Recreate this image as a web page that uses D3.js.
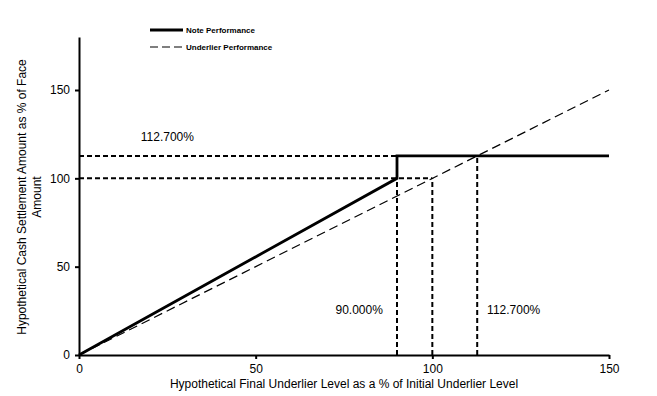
<!DOCTYPE html>
<html>
<head>
<meta charset="utf-8">
<script src="https://cdn.jsdelivr.net/npm/d3@7"></script>
<style>
  html, body { margin: 0; padding: 0; background: #fff; }
  svg { display: block; }
  text { font-family: "Liberation Sans", Arial, sans-serif; fill: #000; }
</style>
</head>
<body>
<svg id="chart" width="657" height="396"></svg>
<script>
// ---- data ----
const seriesNames = ["Note Performance", "Underlier Performance"];
const noteX = [0, 90, 90, 150];
const noteY = [0, 100, 112.7, 112.7];
const underlierX = [0, 150];
const underlierY = [0, 150];
const xTicks = [0, 50, 100, 150];
const yTicks = [0, 50, 100, 150];
const capLevel = 112.7;
const thresholdLevel = 90;
const parLevel = 100;
const xTitle = "Hypothetical Final Underlier Level as a % of Initial Underlier Level";
const yTitleLines = ["Hypothetical Cash Settlement Amount as % of Face", "Amount"];

// ---- layout ----
const svg = d3.select("#chart");
const x = d3.scaleLinear().domain([0, 150]).range([79, 609]);
const y = d3.scaleLinear().domain([0, 180]).range([355, 37]);

// reference dashed lines
const refStyle = g => g.attr("stroke", "#000").attr("stroke-width", 2).attr("stroke-dasharray", "5,3").attr("fill", "none");
const refs = [
  [[0, capLevel], [capLevel, capLevel]],
  [[0, parLevel], [parLevel, parLevel]],
  [[thresholdLevel, 0], [thresholdLevel, parLevel]],
  [[parLevel, 0], [parLevel, parLevel]],
  [[capLevel, 0], [capLevel, capLevel]]
];
const lineGen = d3.line().x(d => x(d[0])).y(d => y(d[1]));
refs.forEach(r => svg.append("path").attr("d", lineGen(r)).call(refStyle));

// underlier
svg.append("path")
  .attr("d", lineGen(underlierX.map((v, i) => [v, underlierY[i]])))
  .attr("stroke", "#000").attr("stroke-width", 1.2).attr("stroke-dasharray", "9,5").attr("fill", "none");

// note
svg.append("path")
  .attr("d", lineGen(noteX.map((v, i) => [v, noteY[i]])))
  .attr("stroke", "#000").attr("stroke-width", 2.8).attr("fill", "none");

// axes
const xAxis = svg.append("g").attr("transform", `translate(0,${y(0)})`)
  .call(d3.axisBottom(x).tickValues(xTicks).tickSize(4).tickSizeOuter(0).tickPadding(5));
const yAxis = svg.append("g").attr("transform", `translate(${x(0)},0)`)
  .call(d3.axisLeft(y).tickValues(yTicks).tickSize(4).tickSizeOuter(0).tickPadding(5));
[xAxis, yAxis].forEach(a => {
  a.select(".domain").attr("stroke", "#000").attr("stroke-width", 2);
  a.selectAll(".tick line").attr("stroke", "#000").attr("stroke-width", 2);
  a.selectAll(".tick text").attr("font-size", 12).attr("font-family", "Liberation Sans, Arial, sans-serif");
});

// axis titles
svg.append("text").attr("x", (x(0) + x(150)) / 2).attr("y", 388)
  .attr("text-anchor", "middle").attr("font-size", 12).text(xTitle);
const yt = svg.append("text").attr("transform", `translate(26,197) rotate(-90)`)
  .attr("text-anchor", "middle").attr("font-size", 12);
yTitleLines.forEach((t, i) => yt.append("tspan").attr("x", 0).attr("dy", i === 0 ? 0 : 15).text(t));

// annotations
const fmt = v => v.toFixed(3) + "%";
svg.append("text").attr("x", x(25)).attr("y", y(121)).attr("text-anchor", "middle").attr("font-size", 12).text(fmt(capLevel));
svg.append("text").attr("x", x(86)).attr("y", y(23)).attr("text-anchor", "end").attr("font-size", 12).text(fmt(thresholdLevel));
svg.append("text").attr("x", x(115.5)).attr("y", y(23)).attr("text-anchor", "start").attr("font-size", 12).text(fmt(capLevel));

// legend
const leg = svg.append("g");
seriesNames.forEach((name, i) => {
  const ly = 30 + i * 17;
  leg.append("line").attr("x1", 150).attr("x2", 183).attr("y1", ly).attr("y2", ly)
    .attr("stroke", "#000")
    .attr("stroke-width", i === 0 ? 2.8 : 1.2)
    .attr("stroke-dasharray", i === 0 ? null : "8,4");
  leg.append("text").attr("x", 186).attr("y", ly + 3).attr("font-size", 8)
    .attr("font-weight", "bold").attr("font-family", "DejaVu Sans Condensed, Liberation Sans, sans-serif")
    .text(name);
});
</script>
</body>
</html>
